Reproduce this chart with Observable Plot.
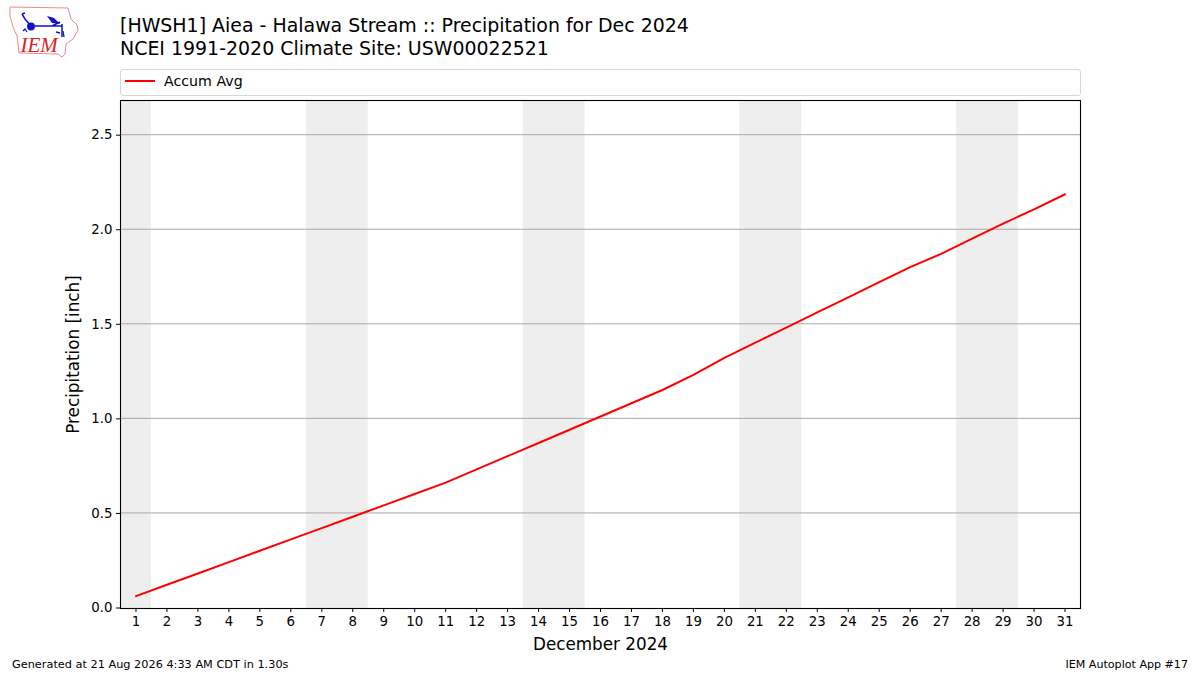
<!DOCTYPE html>
<html><head><meta charset="utf-8">
<script src="https://cdn.jsdelivr.net/npm/d3@7"></script>
<script src="https://cdn.jsdelivr.net/npm/@observablehq/plot@0.6"></script>
<style>
html,body{margin:0;padding:0;background:#fff;width:1200px;height:675px;overflow:hidden;font-family:"DejaVu Sans",sans-serif;color:#000}
#chart{position:absolute;left:0;top:0}
.t{position:absolute;white-space:nowrap;line-height:1}
#legend{position:absolute;left:120px;top:69px;width:959px;height:25px;border:1px solid #d6d6d6;border-radius:3px;background:#fff}
#legend i{position:absolute;left:4px;top:10px;width:30px;height:2px;background:#f00}
#legend span{position:absolute;left:43px;top:3px;font-size:14.2px;line-height:16px}
#logo{position:absolute;left:0;top:0}
</style></head><body>
<div id="chart"></div>
<svg id="logo" width="90" height="62" viewBox="0 0 90 62">
<path d="M10 7 L68 8 L71 19 L77 25 L78 30 L73 39 L66 44 L65 54 L62 57 L58 54 L19 53 L17 36 L13 27 L10 16 Z" fill="none" stroke="#e88" stroke-width="1"/>
<g stroke="#11c" fill="#11c" stroke-width="1.5">
<path d="M31 26 L62 26 M52 26 L60 22 M62 24 L62 37 M31 26 L25 19 L22 14 M22 14 L25 13" fill="none"/>
<circle cx="31" cy="26.5" r="3.2"/>
<path d="M47 16 L54 18 L60 24 L52 23 Z" stroke="none"/>
<path d="M56 32 L60 33 M63 31 L64 37 M23 31 L25 29 L27 32" fill="none" stroke-width="1.3"/>
</g>
<text x="20.5" y="52" font-family="Liberation Serif" font-style="italic" font-size="21" fill="#d22">IEM</text>
</svg>
<div class="t" style="left:120px;top:15.5px;font-size:18.95px">[HWSH1] Aiea - Halawa Stream :: Precipitation for Dec 2024</div>
<div class="t" style="left:120px;top:38.5px;font-size:18.95px">NCEI 1991-2020 Climate Site: USW00022521</div>
<div id="legend"><i></i><span>Accum Avg</span></div>
<div class="t" style="left:12px;top:659px;font-size:11.3px">Generated at 21 Aug 2026 4:33 AM CDT in 1.30s</div>
<div class="t" style="right:12px;top:659px;font-size:11.1px">IEM Autoplot App #17</div>
<script>
const days = d3.range(1, 32);
const accumAvg = [0.06,0.12,0.18,0.24,0.30,0.36,0.42,0.48,0.54,0.60,0.66,0.73,0.80,0.87,0.94,1.01,1.08,1.15,1.23,1.32,1.40,1.48,1.56,1.64,1.72,1.80,1.87,1.95,2.03,2.105,2.185];
const weekendStart = [0.5,6.5,13.5,20.5,27.5];
const weekendEnd = [1.5,8.5,15.5,22.5,29.5];
const yTicks = [0,0.5,1,1.5,2,2.5];
const gridTicks = [0.5,1,1.5,2,2.5];
const weekends = weekendStart.map((s,i)=>({s,e:weekendEnd[i]}));
const rows = days.map((d,i)=>({d,v:accumAvg[i]}));
const plot = Plot.plot({
  width:1200,height:675,
  marginLeft:120,marginRight:120,marginTop:100,marginBottom:67,
  style:{fontFamily:'"DejaVu Sans",sans-serif',fontSize:"13.3px",color:"#000",background:"#fff",overflow:"visible"},
  x:{domain:[0.5,31.5]},
  y:{domain:[0,2.686]},
  marks:[
    Plot.rect(weekends,{x1:"s",x2:"e",fill:"#eeeeee"}),
    Plot.ruleY(gridTicks,{stroke:"#a8a8a8",strokeWidth:1,dy:-1}),
    Plot.line(rows,{x:"d",y:"v",stroke:"#ff0000",strokeWidth:2,dy:-1}),
    Plot.axisX({ticks:days,tickFormat:d=>String(d),tickSize:4,tickPadding:4,label:"December 2024",labelAnchor:"center",labelArrow:"none",labelOffset:41,fontSize:13.3,stroke:"#000",color:"#000"}),
    Plot.axisY({ticks:yTicks,tickFormat:d3.format(".1f"),tickSize:4,tickPadding:4,label:"Precipitation [inch]",labelAnchor:"center",labelArrow:"none",labelOffset:53,fontSize:13.3,stroke:"#000",dy:-0.5}),
    Plot.frame({stroke:"#000",strokeWidth:1.1})
  ]
});
document.getElementById("chart").append(plot);
d3.select(plot).selectAll('[aria-label="x-axis label"] text, [aria-label="y-axis label"] text').style("font-size","16.8px");
</script>
</body></html>
